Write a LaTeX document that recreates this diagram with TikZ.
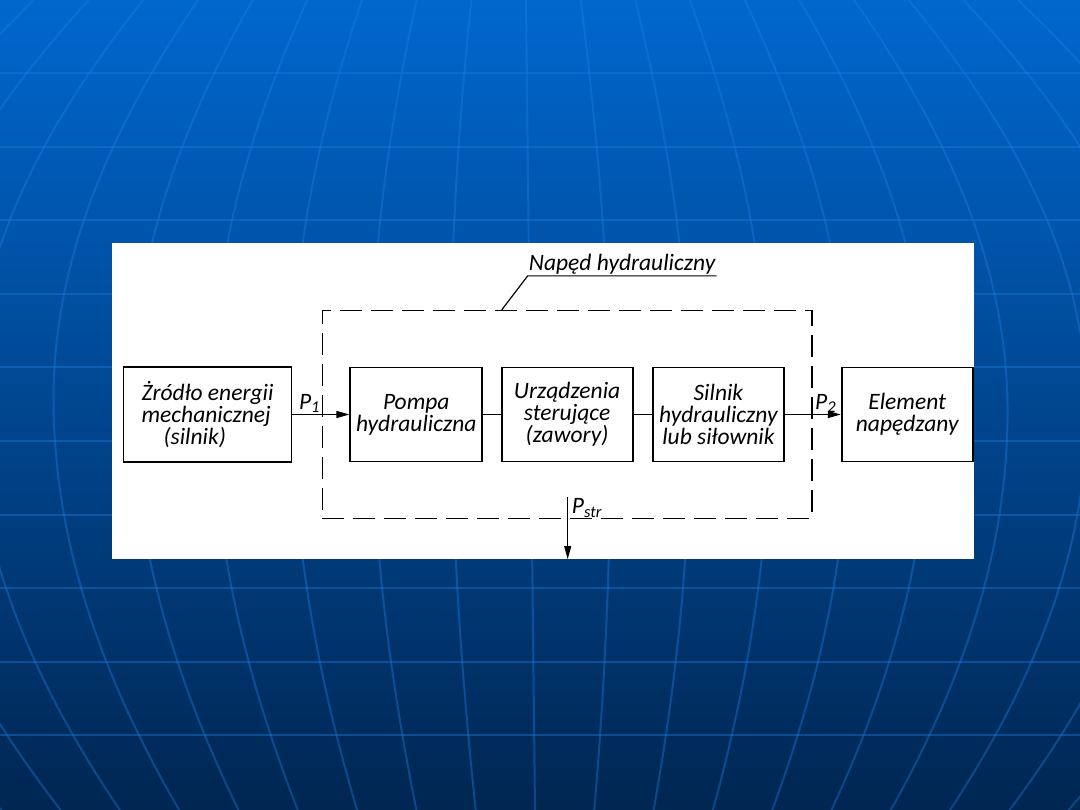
\documentclass[tikz,border=0pt]{standalone}
\usepackage{fontspec}
\setmainfont{Carlito}
\usetikzlibrary{arrows.meta,positioning,fit}
\definecolor{bgtop}{RGB}{0,103,206}
\definecolor{bgmid}{RGB}{0,80,158}
\definecolor{bgbot}{RGB}{0,38,82}
\definecolor{gridline}{RGB}{30,128,228}
\newcommand{\lettering}{\fontsize{23.5}{22}\selectfont\itshape}
\tikzset{
  blk/.style={draw=black,line width=1.8pt,fill=white,minimum width=131pt,
    minimum height=94pt,inner sep=1pt,align=center,font=\lettering},
  drivebox/.style={draw=black,line width=1.4pt,dash pattern=on 22pt off 9pt},
  lbl/.style={inner sep=1pt,font=\lettering},
  flow/.style={-{Triangle[length=13pt,width=7pt]},line width=1.2pt},
  link/.style={line width=1.2pt},
  meridian/.style={gridline,line width=2pt,opacity=0.38},
}

\begin{document}
\begin{tikzpicture}[x=1pt,y=-1pt]
  % backdrop
  \shade[top color=bgtop,middle color=bgmid,bottom color=bgbot] (0,0) rectangle (1080,810);
  \begin{scope}
    \clip (0,0) rectangle (1080,810);
    \foreach \k in {-9,...,9}{
      \draw[meridian] plot[domain=0:405,samples=40]
        ({526+9*\x/810+79.5*\k*cos((\x-405)/8.7)},\x);
      \draw[meridian] plot[domain=405:810,samples=40]
        ({526+9*\x/810+79.5*\k*cos((\x-405)/9.7)},\x);
    }
    \foreach \n in {1,...,10}
      \draw[meridian] (0,73.5*\n) -- (1080,73.5*\n);
  \end{scope}
  \fill[white] (112,243) rectangle (974,559);

  % blocks
  \node[blk,minimum width=168pt,minimum height=95pt,align=left] (src) at (207.5,414.5)
    {\.Zródło energii\\mechanicznej\\\hspace*{22pt}(silnik)};
  \node[blk,minimum width=132pt,right=57pt of src] (pump) {Pompa\\hydrauliczna};
  \node[blk,right=17.5pt of pump] (valves) {Urządzenia\\sterujące\\(zawory)};
  \node[blk,right=18.5pt of valves] (motor) {Silnik\\hydrauliczny\\lub siłownik};
  \node[blk,right=56pt of motor] (load) {Element\\napędzany};

  % hydraulic drive
  \node[drivebox,fit=(pump)(motor),inner xsep=27pt,inner ysep=56pt] (drive) {};
  \node[lbl,anchor=south west] (title) at ([xshift=206pt,yshift=34pt]drive.north west)
    {Napęd hydrauliczny};
  \coordinate (tick) at ([xshift=180pt]drive.north west);
  \draw[link] (tick) -- (title.south west) -- (title.south east);

  \draw[flow] (src) -- node[lbl,above,pos=0.3]{P\textsubscript{1}} (pump);
  \draw[link] (pump) -- (valves);
  \draw[link] (valves) -- (motor);
  \draw[flow] (motor) -- node[lbl,above,pos=0.73]{P\textsubscript{2}} (load);

  \coordinate (pstr) at ([xshift=246pt,yshift=22pt]drive.south west);
  \coordinate (pout) at ([xshift=246pt,yshift=-40pt]drive.south west);
  \draw[flow] (pstr) -- (pout);
  \node[lbl,anchor=north west] (pstrlbl) at ([xshift=3pt]pstr) {P\textsubscript{str}};
\end{tikzpicture}
\end{document}
